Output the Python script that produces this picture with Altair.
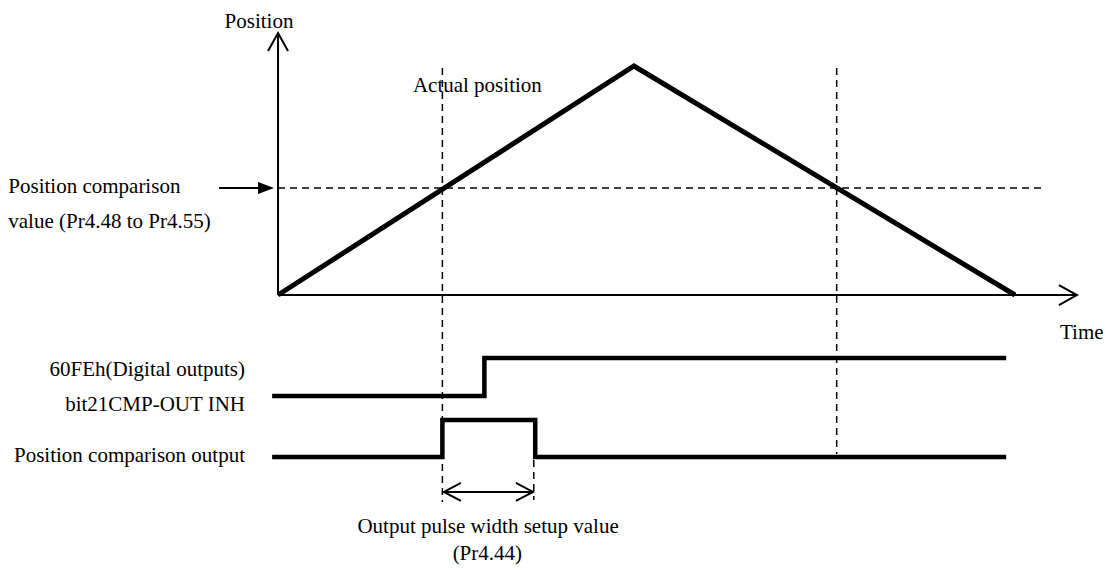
import altair as alt
import pandas as pd

# ---------------- values ----------------
# time axis: 0..100 = duration of the move; position: 0..100 = peak position
profile_time = [0.0, 48.3, 100.0]        # start, peak, end of move
profile_pos = [0.0, 100.0, 0.0]
compare_value = 46.7                      # Position comparison value (Pr4.48 to Pr4.55)
cross_times = [22.3, 75.8]                # actual position passes the comparison value
pulse_end = 34.9                          # end of output pulse (width Pr4.44)
inh_release = 28.0                        # 60FEh bit21 CMP-OUT INH switches
signal_span = [-0.8, 98.8]                # start / end of the signal traces
do_levels = [-44.1, -27.5]                # 60FEh bit21 trace: low, high
cmp_levels = [-70.7, -54.6]               # Position comparison output: low, high
axis_time_end = 108.4
axis_pos_end = 114.4
dash_top = 99.1
dash_bottoms = [-90.4, -69.4]
pulse_arrow_level = -86.0

label_texts = ["Position", "Actual position", "Position comparison",
               "value (Pr4.48 to Pr4.55)", "Time", "60FEh(Digital outputs)",
               "bit21CMP-OUT INH", "Position comparison output",
               "Output pulse width setup value", "(Pr4.44)"]

# ---------------- scales ----------------
W, H = 1095, 557
X_DOMAIN = [-36.64, 111.94]
Y_DOMAIN = [-117.90, 125.33]
xs = alt.Scale(domain=X_DOMAIN, nice=False, zero=False)
ys = alt.Scale(domain=Y_DOMAIN, nice=False, zero=False)


def X(f):
    return alt.X(f, type="quantitative", scale=xs, axis=None)


def Y(f):
    return alt.Y(f, type="quantitative", scale=ys, axis=None)


FONT = "Liberation Serif"

# ---------------- tables ----------------
profile = pd.DataFrame({"t": profile_time, "p": profile_pos, "o": range(3)})

do_sig = pd.DataFrame({
    "t": [signal_span[0], inh_release, inh_release, signal_span[1]],
    "p": [do_levels[0], do_levels[0], do_levels[1], do_levels[1]],
    "o": range(4)})

cmp_sig = pd.DataFrame({
    "t": [signal_span[0], cross_times[0], cross_times[0], pulse_end, pulse_end, signal_span[1]],
    "p": [cmp_levels[0], cmp_levels[0], cmp_levels[1], cmp_levels[1], cmp_levels[0], cmp_levels[0]],
    "o": range(6)})

dashed = pd.DataFrame({
    "x": [0.0, cross_times[0], cross_times[1], pulse_end - 0.2],
    "x2": [103.8, cross_times[0], cross_times[1], pulse_end - 0.2],
    "y": [compare_value, dash_top, dash_top, -72.0],
    "y2": [compare_value, dash_bottoms[0], dash_bottoms[1], -89.5]})

solid = pd.DataFrame({
    "x": [0.0, 0.0, -8.0, cross_times[0] + 0.2],
    "x2": [0.0, axis_time_end, -2.2, pulse_end - 0.3],
    "y": [0.0, 0.0, compare_value, pulse_arrow_level],
    "y2": [axis_pos_end, 0.0, compare_value, pulse_arrow_level]})

big_heads = pd.DataFrame({"t": [0.0, axis_time_end], "p": [axis_pos_end, 0.0], "a": [0, 90]})
small_heads = pd.DataFrame({"t": [cross_times[0] + 0.2, pulse_end - 0.3],
                            "p": [pulse_arrow_level, pulse_arrow_level], "a": [270, 90]})
fill_head = pd.DataFrame({"t": [-1.63], "p": [compare_value]})

labels = pd.DataFrame({
    "text": label_texts,
    "t": [-2.58, 18.3, -36.6, -36.6, 106.1, -4.48, -4.48, -4.48, 28.5, 28.4],
    "p": [119.2, 91.3, 47.2, 31.9, -16.6, -32.75, -48.0, -70.3, -101.3, -113.1],
    "al": ["center", "left", "left", "left", "left", "right", "right", "right", "center", "center"]})

# ---------------- layers ----------------
dash_layer = alt.Chart(dashed).mark_rule(
    color="black", strokeWidth=1.5, strokeDash=[7, 5]
).encode(x=X("x"), x2="x2", y=Y("y"), y2="y2")

solid_layer = alt.Chart(solid).mark_rule(
    color="black", strokeWidth=2
).encode(x=X("x"), x2="x2", y=Y("y"), y2="y2")

profile_layer = alt.Chart(profile).mark_line(
    color="black", strokeWidth=5, strokeJoin="miter", strokeCap="butt"
).encode(x=X("t"), y=Y("p"), order="o:Q")

do_layer = alt.Chart(do_sig).mark_line(
    color="black", strokeWidth=4.5, strokeJoin="miter", strokeCap="butt"
).encode(x=X("t"), y=Y("p"), order="o:Q")

cmp_layer = alt.Chart(cmp_sig).mark_line(
    color="black", strokeWidth=4.5, strokeJoin="miter", strokeCap="butt"
).encode(x=X("t"), y=Y("p"), order="o:Q")

big_head_layer = alt.Chart(big_heads).mark_point(
    shape="M-1,1.8L0,0L1,1.8", filled=False, size=400, color="black",
    strokeWidth=2, opacity=1
).encode(x=X("t"), y=Y("p"), angle=alt.Angle("a:Q", scale=None))

small_head_layer = alt.Chart(small_heads).mark_point(
    shape="M-1,1.9L0,0L1,1.9", filled=False, size=324, color="black",
    strokeWidth=2, opacity=1
).encode(x=X("t"), y=Y("p"), angle=alt.Angle("a:Q", scale=None))

fill_head_layer = alt.Chart(fill_head).mark_point(
    shape="M-1,-0.75L1,0L-1,0.75Z", filled=True, size=256, color="black", opacity=1
).encode(x=X("t"), y=Y("p"))

text_layers = []
for al in ["left", "center", "right"]:
    text_layers.append(
        alt.Chart(labels[labels["al"] == al]).mark_text(
            font=FONT, fontSize=21, color="black", align=al, baseline="middle"
        ).encode(x=X("t"), y=Y("p"), text="text:N")
    )

chart = alt.layer(
    dash_layer, solid_layer, profile_layer, do_layer, cmp_layer,
    big_head_layer, small_head_layer, fill_head_layer, *text_layers
).properties(
    width=W, height=H, padding=0,
    autosize=alt.AutoSizeParams(type="none"),
    background="white"
).configure_view(stroke=None)

chart.save("out.html", embed_options={"renderer": "svg", "actions": False})
